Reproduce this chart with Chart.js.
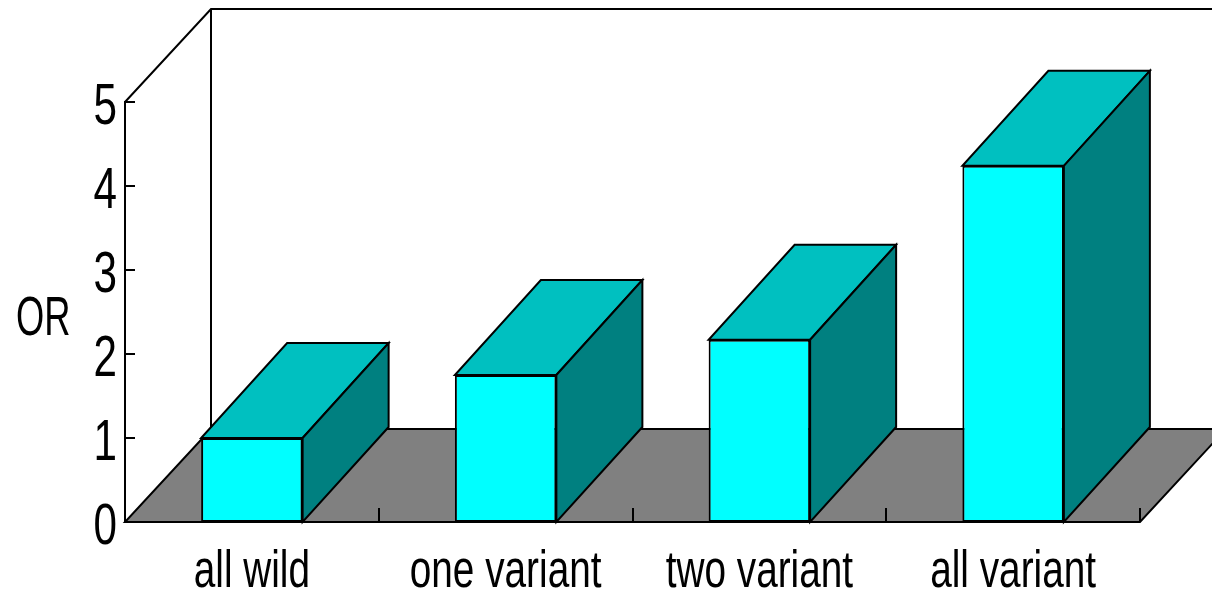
<!DOCTYPE html>
<html>
<head>
<meta charset="utf-8">
<script src="https://cdn.jsdelivr.net/npm/chart.js@4.4.1/dist/chart.umd.min.js"></script>
<style>
  html, body { margin: 0; padding: 0; background: #fff; }
  #wrap { width: 1212px; height: 596px; }
</style>
</head>
<body>
<div id="wrap"><canvas id="orChart" width="1212" height="596"></canvas></div>
<script>
// Data
const groups = ['all wild', 'one variant', 'two variant', 'all variant'];
const oddsRatios = [1.0, 1.75, 2.17, 4.24];
const yTicks = [0, 1, 2, 3, 4, 5];
const yTitle = 'OR';

// Colours
const frontColor = '#00ffff';
const topColor = '#00c0c0';
const sideColor = '#008080';
const floorColor = '#808080';
const lineColor = '#000000';
const labelFont = "'Liberation Sans', Arial, sans-serif";

// 3D depth offsets (px)
const wallDX = 86, wallDY = -93;
const barDX = 86, barDY = -95;

function poly(ctx, pts, fill) {
    ctx.beginPath();
    ctx.moveTo(pts[0][0], pts[0][1]);
    for (let i = 1; i < pts.length; i++) ctx.lineTo(pts[i][0], pts[i][1]);
    ctx.closePath();
    if (fill) { ctx.fillStyle = fill; ctx.fill(); }
    ctx.stroke();
}

// condensed text: squeeze horizontally around the anchor point
function narrowText(ctx, text, x, y, size, sx, align) {
    ctx.save();
    ctx.translate(x, y);
    ctx.scale(sx, 1);
    ctx.font = size + 'px ' + labelFont;
    ctx.textAlign = align;
    ctx.textBaseline = 'alphabetic';
    ctx.fillStyle = '#000';
    ctx.fillText(text, 0, 0);
    ctx.restore();
}

const box3d = {
    id: 'box3d',
    beforeDatasetsDraw(chart) {
        const ctx = chart.ctx;
        const { left: L, right: R, top: T, bottom: B } = chart.chartArea;
        const ys = chart.scales.y;
        ctx.save();
        ctx.strokeStyle = lineColor;
        ctx.lineWidth = 2;
        ctx.lineJoin = 'miter';
        // back wall outline
        ctx.beginPath();
        ctx.moveTo(L, T);
        ctx.lineTo(L + wallDX, T + wallDY);
        ctx.lineTo(R + wallDX, T + wallDY);
        ctx.moveTo(L + wallDX, T + wallDY);
        ctx.lineTo(L + wallDX, B + wallDY);
        ctx.stroke();
        // floor
        poly(ctx, [[L, B], [R, B], [R + wallDX, B + wallDY], [L + wallDX, B + wallDY]], floorColor);
        // category separators on the floor edge
        const catW = (R - L) / groups.length;
        ctx.beginPath();
        for (let i = 1; i <= groups.length; i++) {
            const x = Math.round(L + i * catW);
            ctx.moveTo(x, B);
            ctx.lineTo(x, B - 14);
        }
        // y tick marks pointing inward
        yTicks.forEach(v => {
            const y = ys.getPixelForValue(v);
            ctx.moveTo(L, y);
            ctx.lineTo(L + 10, y);
        });
        ctx.stroke();
        ctx.restore();
    },
    afterDatasetsDraw(chart) {
        const ctx = chart.ctx;
        const meta = chart.getDatasetMeta(0);
        ctx.save();
        ctx.strokeStyle = lineColor;
        ctx.lineWidth = 2;
        meta.data.forEach(bar => {
            const { x, y, base, width } = bar.getProps(['x', 'y', 'base', 'width'], true);
            const l = x - width / 2, r = x + width / 2;
            poly(ctx, [[l, y], [r, y], [r + barDX, y + barDY], [l + barDX, y + barDY]], topColor);
            poly(ctx, [[r, y], [r + barDX, y + barDY], [r + barDX, base + barDY], [r, base]], sideColor);
        });
        ctx.restore();
    },
    afterDraw(chart) {
        const ctx = chart.ctx;
        const xs = chart.scales.x, ys = chart.scales.y;
        const L = chart.chartArea.left;
        // value labels on the y axis
        yTicks.forEach(v => {
            narrowText(ctx, String(v), L - 8, ys.getPixelForValue(v) + 22, 57, 0.74, 'right');
        });
        // category labels
        groups.forEach((g, i) => {
            narrowText(ctx, g, xs.getPixelForValue(i), 587, 51, 0.76, 'center');
        });
        // axis title, written horizontally
        narrowText(ctx, yTitle, 16, 335, 55, 0.66, 'left');
    }
};

new Chart(document.getElementById('orChart'), {
    type: 'bar',
    data: {
        labels: groups,
        datasets: [{
            data: oddsRatios,
            backgroundColor: frontColor,
            borderColor: lineColor,
            borderWidth: 2,
            borderSkipped: false,
            barPercentage: 0.4,
            categoryPercentage: 1.0
        }]
    },
    options: {
        responsive: false,
        animation: false,
        layout: { padding: { top: 102, right: 72, left: 0, bottom: 0 } },
        plugins: { legend: { display: false }, tooltip: { enabled: false } },
        scales: {
            x: {
                grid: { display: false, drawTicks: false },
                border: { display: false },
                ticks: { display: false },
                afterFit(scale) { scale.height = 74; }
            },
            y: {
                min: 0,
                max: 5,
                grid: { display: false, drawTicks: false },
                border: { display: true, color: lineColor, width: 2 },
                ticks: { display: false, stepSize: 1 },
                afterFit(scale) { scale.width = 125; }
            }
        }
    },
    plugins: [box3d]
});
</script>
</body>
</html>
